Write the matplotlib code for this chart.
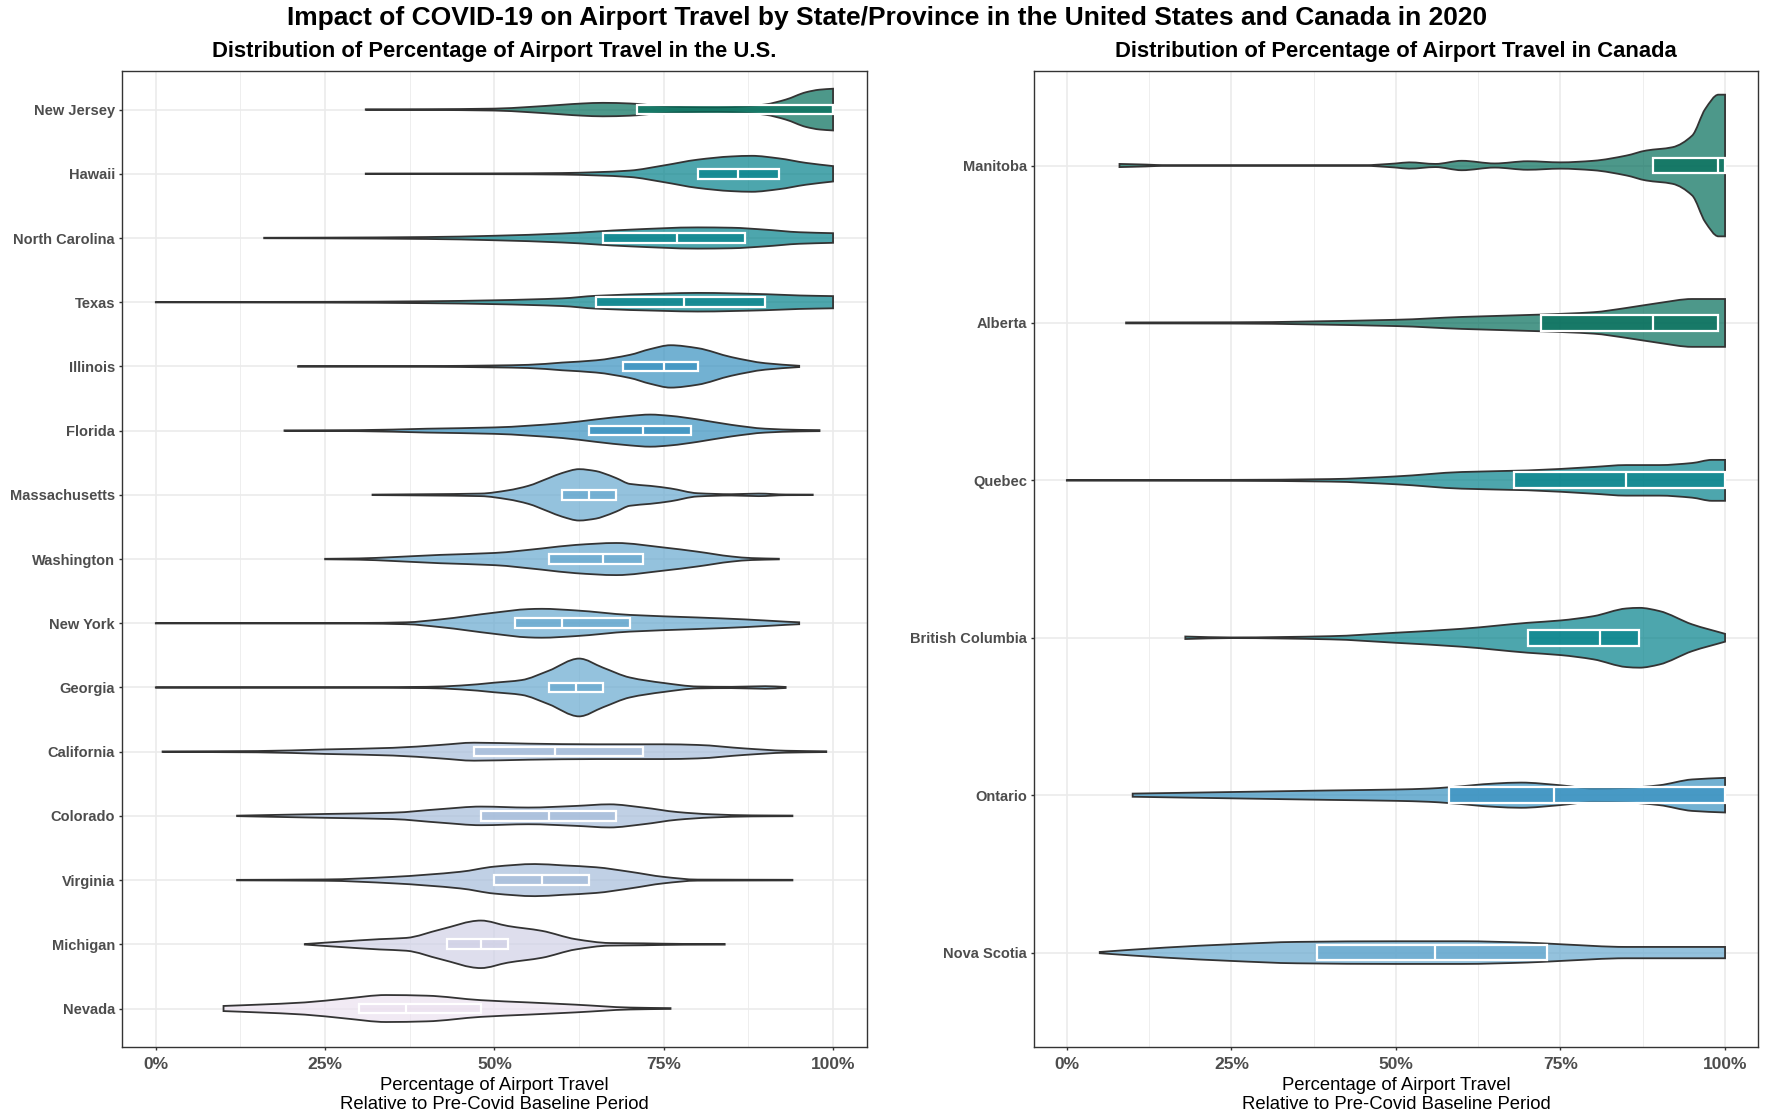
import matplotlib
matplotlib.use("Agg")
import matplotlib.pyplot as plt
from matplotlib.colors import to_rgba
from matplotlib.path import Path
from matplotlib.patches import PathPatch
import numpy as np

plt.rcParams["font.family"] = ["Liberation Sans", "DejaVu Sans"]

# ---- U.S. panel (top to bottom) ----
us_states = ["New Jersey", "Hawaii", "North Carolina", "Texas", "Illinois",
             "Florida", "Massachusetts", "Washington", "New York", "Georgia",
             "California", "Colorado", "Virginia", "Michigan", "Nevada"]
us_q1 = [71, 80, 66, 65, 69, 64, 60, 58, 53, 58, 47, 48, 50, 43, 30]
us_med = [100, 86, 77, 78, 75, 72, 64, 66, 60, 62, 59, 58, 57, 48, 37]
us_q3 = [100, 92, 87, 90, 80, 79, 68, 72, 70, 66, 72, 68, 64, 52, 48]
us_colors = ["#016c59", "#02818a", "#02818a", "#02818a", "#3690c0",
             "#3690c0", "#67a9cf", "#67a9cf", "#67a9cf", "#67a9cf",
             "#a6bddb", "#a6bddb", "#a6bddb", "#d0d1e6", "#ece2f0"]

# density profiles: (percent, half width in category units)
new_jersey = [(31, 0.004), (40, 0.006), (50, 0.015), (55, 0.04), (60, 0.075), (63, 0.095),
              (66, 0.105), (70, 0.095), (74, 0.06), (78, 0.04), (83, 0.035), (87, 0.05),
              (90, 0.08), (93, 0.155), (96, 0.27), (98, 0.31), (100, 0.325)]
hawaii = [(31, 0.004), (50, 0.006), (60, 0.012), (65, 0.025), (70, 0.05), (75, 0.13),
          (80, 0.22), (85, 0.27), (88, 0.28), (92, 0.24), (96, 0.17), (100, 0.12)]
north_carolina = [(16, 0.004), (25, 0.006), (40, 0.015), (50, 0.035), (60, 0.07), (70, 0.13),
                  (80, 0.165), (85, 0.16), (90, 0.13), (95, 0.09), (100, 0.075)]
texas = [(0, 0.003), (25, 0.006), (40, 0.015), (50, 0.03), (60, 0.06), (65, 0.10),
         (75, 0.135), (80, 0.145), (90, 0.125), (95, 0.105), (100, 0.095)]
illinois = [(21, 0.004), (40, 0.006), (50, 0.015), (55, 0.025), (60, 0.06), (65, 0.095),
            (70, 0.18), (73, 0.27), (76, 0.33), (80, 0.285), (85, 0.145), (90, 0.05), (95, 0.01)]
florida = [(19, 0.004), (30, 0.008), (40, 0.03), (50, 0.05), (60, 0.115), (65, 0.175),
           (70, 0.23), (73, 0.25), (76, 0.23), (80, 0.175), (85, 0.09), (90, 0.03),
           (95, 0.012), (98, 0.008)]
massachusetts = [(32, 0.004), (40, 0.01), (48, 0.02), (52, 0.07), (55, 0.14), (58, 0.26),
                 (60, 0.34), (62.5, 0.40), (65, 0.37), (66, 0.34), (68, 0.26), (70, 0.17),
                 (73, 0.14), (76, 0.10), (80, 0.025), (85, 0.01), (89, 0.02), (93, 0.005),
                 (97, 0.004)]
washington = [(25, 0.004), (30, 0.01), (35, 0.03), (42, 0.065), (50, 0.095), (57, 0.165),
              (62, 0.22), (68, 0.25), (75, 0.18), (80, 0.115), (85, 0.04), (88, 0.015),
              (92, 0.005)]
new_york = [(0, 0.003), (30, 0.005), (37, 0.015), (42, 0.06), (50, 0.165), (55, 0.22),
            (57, 0.225), (62, 0.2), (70, 0.13), (80, 0.09), (87, 0.06), (93, 0.025), (95, 0.015)]
georgia = [(0, 0.003), (30, 0.005), (40, 0.01), (45, 0.03), (50, 0.075), (54, 0.115),
           (58, 0.26), (62.5, 0.45), (66, 0.31), (70, 0.155), (75, 0.07), (80, 0.015),
           (85, 0.01), (90, 0.02), (93, 0.008)]
california = [(1, 0.004), (15, 0.01), (25, 0.035), (35, 0.06), (42, 0.105), (47, 0.14),
              (55, 0.125), (65, 0.115), (75, 0.115), (80, 0.105), (87, 0.05), (93, 0.015),
              (99, 0.006)]
colorado = [(12, 0.004), (25, 0.03), (35, 0.05), (42, 0.105), (48, 0.145), (55, 0.13),
            (62, 0.155), (67, 0.18), (72, 0.13), (77, 0.06), (82, 0.025), (88, 0.008), (94, 0.005)]
virginia = [(12, 0.004), (25, 0.01), (35, 0.05), (45, 0.13), (50, 0.21), (56, 0.25),
            (60, 0.23), (65, 0.2), (70, 0.13), (75, 0.05), (80, 0.008), (94, 0.005)]
michigan = [(22, 0.004), (27, 0.04), (33, 0.08), (37, 0.10), (42, 0.23), (48, 0.37),
            (52, 0.285), (57, 0.21), (62, 0.08), (67, 0.02), (72, 0.015), (78, 0.006), (84, 0.005)]
nevada = [(10, 0.04), (15, 0.06), (22, 0.095), (28, 0.155), (34, 0.21), (40, 0.2),
          (48, 0.13), (55, 0.095), (62, 0.06), (70, 0.015), (76, 0.006)]
us_profiles = [new_jersey, hawaii, north_carolina, texas, illinois, florida, massachusetts,
               washington, new_york, georgia, california, colorado, virginia, michigan, nevada]

# ---- Canada panel (top to bottom) ----
ca_provinces = ["Manitoba", "Alberta", "Quebec", "British Columbia", "Ontario", "Nova Scotia"]
ca_q1 = [89, 72, 68, 70, 58, 38]
ca_med = [99, 89, 85, 81, 74, 56]
ca_q3 = [100, 99, 100, 87, 100, 73]
ca_colors = ["#016c59", "#016c59", "#02818a", "#02818a", "#3690c0", "#67a9cf"]

manitoba = [(8, 0.01), (12, 0.006), (15, 0.002), (45, 0.002), (50, 0.013), (52, 0.02),
            (56, 0.01), (60, 0.03), (65, 0.013), (70, 0.027), (75, 0.02), (80, 0.03),
            (85, 0.063), (88, 0.095), (92, 0.116), (95, 0.19), (97, 0.36), (99, 0.45), (100, 0.45)]
alberta = [(9, 0.003), (25, 0.004), (50, 0.02), (60, 0.038), (72, 0.053), (80, 0.068),
           (85, 0.095), (90, 0.127), (95, 0.152), (100, 0.152)]
quebec = [(0, 0.002), (25, 0.003), (40, 0.008), (50, 0.025), (60, 0.053), (70, 0.063),
          (80, 0.085), (85, 0.097), (90, 0.097), (95, 0.11), (98, 0.13), (100, 0.13)]
british_columbia = [(18, 0.008), (25, 0.002), (40, 0.01), (50, 0.032), (60, 0.057), (70, 0.095),
                    (75, 0.11), (80, 0.137), (85, 0.186), (87, 0.19), (90, 0.17), (95, 0.085),
                    (100, 0.025)]
ontario = [(10, 0.01), (25, 0.02), (40, 0.03), (50, 0.036), (55, 0.042), (58, 0.05), (65, 0.074),
           (69, 0.08), (75, 0.063), (80, 0.042), (85, 0.046), (90, 0.063), (95, 0.1), (100, 0.11)]
nova_scotia = [(5, 0.004), (15, 0.032), (25, 0.053), (35, 0.068), (50, 0.072), (60, 0.072),
               (70, 0.063), (75, 0.053), (85, 0.036), (100, 0.036)]
ca_profiles = [manitoba, alberta, quebec, british_columbia, ontario, nova_scotia]

x_ticks = [0, 25, 50, 75, 100]
x_ticklabels = ["0%", "25%", "50%", "75%", "100%"]

_v = tuple(int(p) for p in matplotlib.__version__.split(".")[:2])
HORIZ = {"orientation": "horizontal"} if _v >= (3, 10) else {"vert": False}

GRID = "#ebebeb"
DARK = "#333333"


def hermite_controls(xs, ws):
    # monotone cubic (pchip-like) bezier controls so the outline passes through the read points
    d = np.diff(ws) / np.diff(xs)
    m = np.zeros_like(ws)
    m[0], m[-1] = d[0], d[-1]
    for i in range(1, len(xs) - 1):
        if d[i - 1] * d[i] > 0:
            m[i] = 2.0 / (1.0 / d[i - 1] + 1.0 / d[i])
    segs = []
    for i in range(len(xs) - 1):
        h = xs[i + 1] - xs[i]
        c1 = (xs[i] + h / 3, max(ws[i] + m[i] * h / 3, 0.0))
        c2 = (xs[i + 1] - h / 3, max(ws[i + 1] - m[i + 1] * h / 3, 0.0))
        segs.append((c1, c2))
    return segs


def violin_path(prof, pos):
    xs = np.array([p[0] for p in prof], dtype=float)
    ws = np.array([p[1] for p in prof], dtype=float)
    segs = hermite_controls(xs, ws)
    verts = [(xs[0], pos + ws[0])]
    codes = [Path.MOVETO]
    for i, (c1, c2) in enumerate(segs):
        verts += [(c1[0], pos + c1[1]), (c2[0], pos + c2[1]), (xs[i + 1], pos + ws[i + 1])]
        codes += [Path.CURVE4] * 3
    verts.append((xs[-1], pos - ws[-1]))
    codes.append(Path.LINETO)
    for i in range(len(segs) - 1, -1, -1):
        c1, c2 = segs[i]
        verts += [(c2[0], pos - c2[1]), (c1[0], pos - c1[1]), (xs[i], pos - ws[i])]
        codes += [Path.CURVE4] * 3
    verts.append((xs[0], pos + ws[0]))
    codes.append(Path.CLOSEPOLY)
    return Path(verts, codes)


def draw_panel(ax, names, profiles, q1, med, q3, colors, box_w):
    n = len(names)
    pos = np.arange(n, 0, -1)

    for prof, p, c in zip(profiles, pos, colors):
        ax.add_patch(PathPatch(violin_path(prof, p), facecolor=to_rgba(c, 0.7),
                               edgecolor=DARK, linewidth=1.3, zorder=2))

    bstats = [dict(q1=a, med=b, q3=c, whislo=a, whishi=c, fliers=[])
              for a, b, c in zip(q1, med, q3)]
    res = ax.bxp(bstats, positions=pos, widths=box_w, patch_artist=True,
                 showcaps=False, showfliers=False, manage_ticks=False,
                 whiskerprops=dict(linewidth=0),
                 medianprops=dict(color="white", linewidth=1.6),
                 boxprops=dict(edgecolor="white", linewidth=1.6), **HORIZ)
    for patch, c in zip(res["boxes"], colors):
        patch.set_facecolor(to_rgba(c, 0.7))
        patch.set_zorder(3)
    for line in res["medians"]:
        line.set_zorder(4)

    ax.set_xlim(-5, 105)
    ax.set_ylim(0.4, n + 0.6)
    ax.set_yticks(pos)
    ax.set_yticklabels(names, fontsize=10.5, fontweight="bold", color="#4d4d4d")
    ax.set_xticks(x_ticks)
    ax.set_xticklabels(x_ticklabels, fontsize=12.5, fontweight="bold", color="#4d4d4d")
    ax.set_xticks([12.5, 37.5, 62.5, 87.5], minor=True)
    ax.tick_params(which="minor", length=0)
    ax.tick_params(which="major", length=2.5, width=1, color=DARK)
    ax.tick_params(axis="y", pad=2.5)
    ax.tick_params(axis="x", pad=5)
    ax.set_axisbelow(True)
    ax.grid(which="major", color=GRID, linewidth=1.2, zorder=0)
    ax.grid(which="minor", axis="x", color=GRID, linewidth=0.6, zorder=0)
    for sp in ax.spines.values():
        sp.set_color(DARK)
        sp.set_linewidth(1.0)
    ax.set_xlabel("Percentage of Airport Travel\nRelative to Pre-Covid Baseline Period",
                  fontsize=13.3, linespacing=1.15, labelpad=3)


fig = plt.figure(figsize=(17.75, 11.19), dpi=100)
ax1 = fig.add_axes([0.0687, 0.0643, 0.4197, 0.8722])
ax2 = fig.add_axes([0.5825, 0.0643, 0.4079, 0.8722])

draw_panel(ax1, us_states, us_profiles, us_q1, us_med, us_q3, us_colors, 0.15)
draw_panel(ax2, ca_provinces, ca_profiles, ca_q1, ca_med, ca_q3, ca_colors, 0.10)

fig.text(0.5, 0.984,
         "Impact of COVID-19 on Airport Travel by State/Province in the United States and Canada in 2020",
         ha="center", va="center", fontsize=19, fontweight="bold")
fig.text(0.0687 + 0.4197 / 2, 0.954, "Distribution of Percentage of Airport Travel in the U.S.",
         ha="center", va="center", fontsize=15.8, fontweight="bold")
fig.text(0.5825 + 0.4079 / 2, 0.954, "Distribution of Percentage of Airport Travel in Canada",
         ha="center", va="center", fontsize=15.8, fontweight="bold")

fig.savefig("out.png", dpi=100)
